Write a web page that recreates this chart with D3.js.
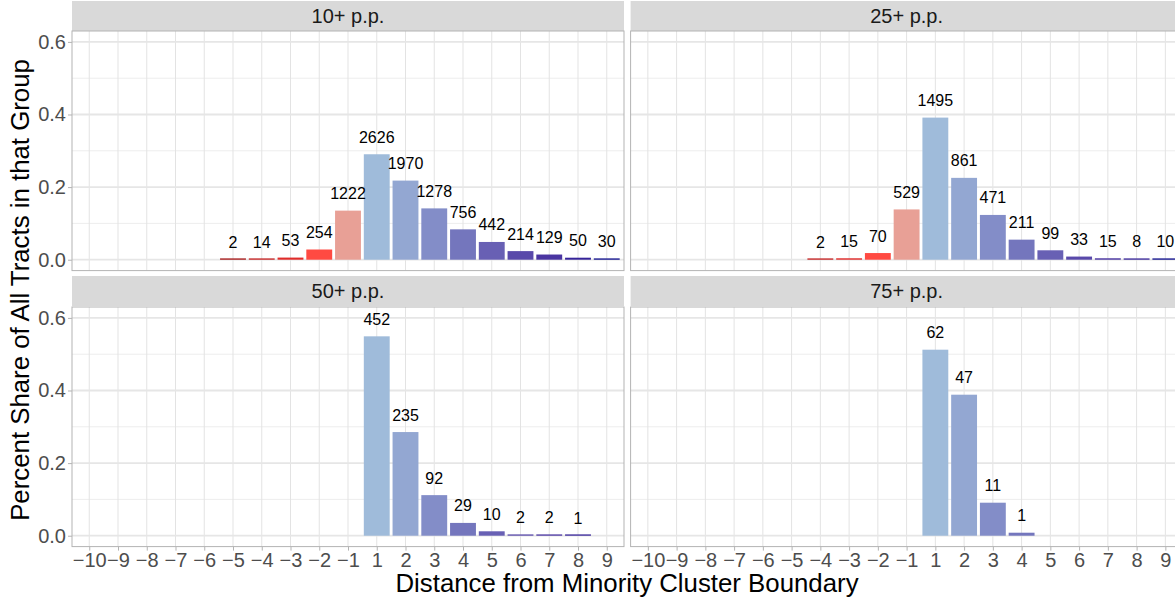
<!DOCTYPE html>
<html>
<head>
<meta charset="utf-8">
<script src="https://cdn.jsdelivr.net/npm/d3@7"></script>
<style>
  html, body { margin: 0; padding: 0; background: #fff; }
  svg { display: block; }
  text { font-family: "Liberation Sans", Arial, Helvetica, sans-serif; }
</style>
</head>
<body>
<svg id="chart" width="1175" height="603"></svg>
<script>
// Distance categories shown on the x axis (0 is not a valid distance)
const distances = [-10, -9, -8, -7, -6, -5, -4, -3, -2, -1, 1, 2, 3, 4, 5, 6, 7, 8, 9];
const tickLabels = ["\u221210", "\u22129", "\u22128", "\u22127", "\u22126", "\u22125", "\u22124", "\u22123", "\u22122", "\u22121",
                    "1", "2", "3", "4", "5", "6", "7", "8", "9"];

// One fill per distance category
const distanceColors = ["#8b0a0a", "#8b0a0a", "#8b0a0a", "#8b0a0a", "#8b0a0a", "#a51212", "#c41c1c", "#e02c2a", "#ff4a42", "#e8a096",
                        "#9fbbda", "#93a7d2", "#838dc8", "#7476bd", "#6860b4", "#5949aa", "#4a35a1", "#362499", "#0b0b8b"];

// Facet titles
const panelTitles = ["10+ p.p.", "25+ p.p.", "50+ p.p.", "75+ p.p."];

// Tract counts per distance, one pair of arrays per threshold
const dist10 = [-5, -4, -3, -2, -1, 1, 2, 3, 4, 5, 6, 7, 8, 9];
const count10 = [2, 14, 53, 254, 1222, 2626, 1970, 1278, 756, 442, 214, 129, 50, 30];

const dist25 = [-4, -3, -2, -1, 1, 2, 3, 4, 5, 6, 7, 8, 9];
const count25 = [2, 15, 70, 529, 1495, 861, 471, 211, 99, 33, 15, 8, 10];

const dist50 = [1, 2, 3, 4, 5, 6, 7, 8];
const count50 = [452, 235, 92, 29, 10, 2, 2, 1];

const dist75 = [1, 2, 3, 4];
const count75 = [62, 47, 11, 1];

const yTicks = [0, 0.2, 0.4, 0.6];
const yMinor = [0.1, 0.3, 0.5];

const panelData = [
  { title: panelTitles[0], dist: dist10, count: count10 },
  { title: panelTitles[1], dist: dist25, count: count25 },
  { title: panelTitles[2], dist: dist50, count: count50 },
  { title: panelTitles[3], dist: dist75, count: count75 }
];

const svg = d3.select("#chart");

// Facet layout
const panelW = 552;
const colX = [72, 630.6];
const rowY = [{ strip: 1, top: 31, bottom: 270.6 }, { strip: 276, top: 307, bottom: 546.6 }];
const stripH = 30;

const xBand = d3.scaleBand().domain(distances).range([0, panelW]).paddingInner(0.1).paddingOuter(0.15);
const xPoint = d3.scalePoint().domain(distances).range([0, panelW]).padding(0.6);
const colorOf = d3.scaleOrdinal().domain(distances).range(distanceColors);

panelData.forEach((p, i) => {
  const col = i % 2, row = Math.floor(i / 2);
  const x0 = colX[col];
  const r = rowY[row];
  const total = d3.sum(p.count);
  const rows = p.dist.map((d, k) => ({ d, n: p.count[k], share: p.count[k] / total }));

  const y = d3.scaleLinear().domain([-0.03, 0.63]).range([r.bottom - r.top, 0]);
  const h = r.bottom - r.top;

  // strip
  const strip = svg.append("g").attr("transform", `translate(${x0},${r.strip})`);
  strip.append("rect").attr("width", panelW).attr("height", stripH).attr("fill", "#d9d9d9");
  strip.append("text").attr("x", panelW / 2).attr("y", stripH / 2 + 7)
    .attr("text-anchor", "middle").attr("font-size", 20).attr("fill", "#1a1a1a").text(p.title);

  const g = svg.append("g").attr("transform", `translate(${x0},${r.top})`);
  g.append("rect").attr("width", panelW).attr("height", h).attr("fill", "#fff");

  // grid
  g.selectAll(".minor").data(yMinor).join("line")
    .attr("x1", 0).attr("x2", panelW).attr("y1", d => y(d)).attr("y2", d => y(d))
    .attr("stroke", "#ededed").attr("stroke-width", 1);
  g.selectAll(".vgrid").data(distances).join("line")
    .attr("x1", d => xPoint(d)).attr("x2", d => xPoint(d)).attr("y1", 0).attr("y2", h)
    .attr("stroke", "#e3e3e3").attr("stroke-width", 1);
  g.selectAll(".major").data(yTicks).join("line")
    .attr("x1", 0).attr("x2", panelW).attr("y1", d => y(d)).attr("y2", d => y(d))
    .attr("stroke", "#e6e6e6").attr("stroke-width", 1.8);

  // bars
  g.selectAll(".bar").data(rows).join("rect")
    .attr("x", d => xBand(d.d)).attr("width", xBand.bandwidth())
    .attr("y", d => Math.min(y(d.share), y(0) - 1.3))
    .attr("height", d => Math.max(y(0) - y(d.share), 1.3))
    .attr("fill", d => colorOf(d.d));

  // count labels
  g.selectAll(".lbl").data(rows).join("text")
    .attr("x", d => xBand(d.d) + xBand.bandwidth() / 2)
    .attr("y", d => y(d.share) - 11.5)
    .attr("text-anchor", "middle").attr("font-size", 16).attr("fill", "#000")
    .text(d => d.n);

  // border
  g.append("rect").attr("width", panelW).attr("height", h)
    .attr("fill", "none").attr("stroke", "#b3b3b3").attr("stroke-width", 1);

  // y axis on left column
  if (col === 0) {
    const ay = g.append("g").call(d3.axisLeft(y).tickValues(yTicks).tickFormat(d3.format(".1f")).tickSize(4).tickPadding(2));
    ay.select(".domain").remove();
    ay.selectAll("line").attr("stroke", "#b3b3b3");
    ay.selectAll("text").attr("font-size", 20).attr("fill", "#4d4d4d")
      .attr("font-family", "'Liberation Sans', Arial, sans-serif");
  }
  // x axis on bottom row
  if (row === 1) {
    const ax = g.append("g").attr("transform", `translate(0,${h})`)
      .call(d3.axisBottom(xPoint).tickFormat((d, k) => tickLabels[k]).tickSize(4).tickPadding(2));
    ax.select(".domain").remove();
    ax.selectAll("line").attr("stroke", "#b3b3b3");
    ax.selectAll("text").attr("font-size", 20).attr("fill", "#4d4d4d")
      .attr("font-family", "'Liberation Sans', Arial, sans-serif");
  }
});

// axis titles
svg.append("text").attr("x", 627).attr("y", 592).attr("text-anchor", "middle")
  .attr("font-size", 25.8).attr("fill", "#000").text("Distance from Minority Cluster Boundary");
svg.append("text").attr("transform", "translate(29,290) rotate(-90)").attr("text-anchor", "middle")
  .attr("font-size", 25.8).attr("fill", "#000").text("Percent Share of All Tracts in that Group");
</script>
</body>
</html>
